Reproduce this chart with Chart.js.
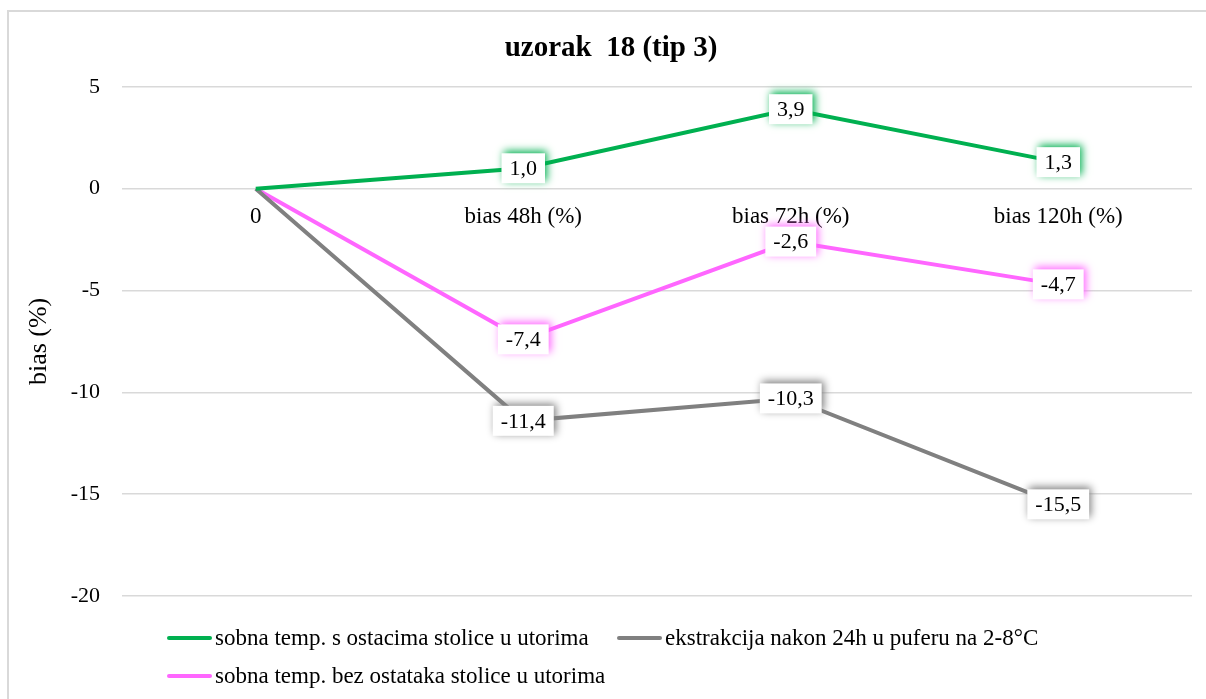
<!DOCTYPE html>
<html>
<head>
    <title>uzorak 18 (tip 3)</title>
    <script src="https://cdn.jsdelivr.net/npm/chart.js"></script>
    <style>
        html, body {
            margin: 0;
            padding: 0;
            width: 1206px;
            height: 699px;
            overflow: hidden;
            background: #ffffff;
            font-family: "Liberation Serif", "Times New Roman", serif;
        }
        .frame {
            position: absolute;
            left: 7px;
            top: 10px;
            width: 1230px;
            height: 720px;
            border: 2px solid #d9d9d9;
        }
        .chart-box {
            position: absolute;
            left: 0;
            top: 0;
            width: 1206px;
            height: 699px;
        }
        .legend-item {
            position: absolute;
            display: flex;
            align-items: center;
            font-size: 23px;
            color: #000;
            white-space: nowrap;
        }
        .legend-item .swatch {
            width: 45px;
            height: 4px;
            border-radius: 2px;
            margin-right: 3px;
        }
    </style>
</head>
<body>
    <div class="frame"></div>
    <div class="chart-box">
        <canvas id="lineChart" width="1206" height="699"></canvas>
    </div>
    <div id="legend"></div>

    <script>
        const categories = ['0', 'bias 48h (%)', 'bias 72h (%)', 'bias 120h (%)'];
        const seriesNames = [
            'sobna temp. s ostacima stolice u utorima',
            'ekstrakcija nakon 24h u puferu na 2-8°C',
            'sobna temp. bez ostataka stolice u utorima'
        ];
        const sobnaSOstacima = [0, 1.0, 3.9, 1.3];
        const ekstrakcija24h = [0, -11.4, -10.3, -15.5];
        const sobnaBezOstataka = [0, -7.4, -2.6, -4.7];
        const seriesColors = ['#00b050', '#808080', '#ff66ff'];
        const yTicks = [5, 0, -5, -10, -15, -20];

        const serif = '"Liberation Serif", "Times New Roman", serif';

        // white boxes with a coloured glow, centred on each point (like the Excel labels)
        const valueLabels = {
            id: 'valueLabels',
            afterDatasetsDraw(chart) {
                const ctx = chart.ctx;
                ctx.save();
                ctx.font = '22px ' + serif;
                ctx.textAlign = 'center';
                ctx.textBaseline = 'middle';
                chart.data.datasets.forEach((ds, di) => {
                    const meta = chart.getDatasetMeta(di);
                    meta.data.forEach((pt, i) => {
                        if (i === 0) return;
                        const txt = ds.data[i].toFixed(1).replace('.', ',');
                        const w = ctx.measureText(txt).width + 16;
                        const h = 30;
                        ctx.save();
                        ctx.shadowColor = ds.borderColor;
                        ctx.shadowBlur = 8;
                        ctx.shadowOffsetX = 2;
                        ctx.shadowOffsetY = -2;
                        ctx.fillStyle = '#ffffff';
                        ctx.fillRect(pt.x - w / 2, pt.y - h / 2, w, h);
                        ctx.restore();
                        ctx.fillStyle = '#000000';
                        ctx.fillText(txt, pt.x, pt.y + 1);
                    });
                });
                ctx.restore();
            }
        };

        const ctx = document.getElementById('lineChart').getContext('2d');
        const chart = new Chart(ctx, {
            type: 'line',
            data: {
                labels: categories,
                datasets: [
                    { label: seriesNames[0], data: sobnaSOstacima, borderColor: seriesColors[0] },
                    { label: seriesNames[1], data: ekstrakcija24h, borderColor: seriesColors[1] },
                    { label: seriesNames[2], data: sobnaBezOstataka, borderColor: seriesColors[2] }
                ].map(d => ({
                    ...d,
                    backgroundColor: d.borderColor,
                    borderWidth: 4,
                    pointRadius: 0,
                    tension: 0,
                    fill: false
                }))
            },
            options: {
                responsive: false,
                animation: false,
                devicePixelRatio: 1,
                layout: {
                    padding: { left: 30, right: 14, top: 0, bottom: 103 }
                },
                plugins: {
                    legend: { display: false },
                    tooltip: { enabled: false },
                    title: {
                        display: true,
                        text: 'uzorak  18 (tip 3)',
                        color: '#000',
                        font: { family: serif, size: 29, weight: 'bold' },
                        padding: { top: 31, bottom: 21 }
                    }
                },
                scales: {
                    x: {
                        type: 'category',
                        offset: true,
                        position: { y: 0 },
                        grid: { display: false, drawTicks: false },
                        border: { display: false },
                        ticks: {
                            color: '#000',
                            font: { family: serif, size: 23 },
                            padding: 15,
                            maxRotation: 0,
                            autoSkip: false
                        }
                    },
                    y: {
                        min: -20,
                        max: 5,
                        afterBuildTicks: axis => {
                            axis.ticks = yTicks.map(v => ({ value: v }));
                        },
                        afterFit: axis => { axis.width = 92; },
                        grid: { color: '#d9d9d9', lineWidth: 1.5, drawTicks: false },
                        border: { display: false },
                        ticks: {
                            color: '#000',
                            font: { family: serif, size: 22 },
                            padding: 22
                        },
                        title: {
                            display: true,
                            text: 'bias (%)',
                            color: '#000',
                            font: { family: serif, size: 26 },
                            padding: { top: -6, bottom: 0 }
                        }
                    }
                }
            },
            plugins: [valueLabels]
        });

        // legend laid out like the original: two items on the first row, one on the second
        const legendSpots = [
            { left: 167, top: 638 },
            { left: 617, top: 638 },
            { left: 167, top: 676 }
        ];
        const legendEl = document.getElementById('legend');
        chart.data.datasets.forEach((ds, i) => {
            const item = document.createElement('div');
            item.className = 'legend-item';
            item.style.left = legendSpots[i].left + 'px';
            item.style.top = (legendSpots[i].top - 14) + 'px';
            item.style.height = '28px';
            const sw = document.createElement('span');
            sw.className = 'swatch';
            sw.style.background = ds.borderColor;
            const tx = document.createElement('span');
            tx.textContent = ds.label;
            item.appendChild(sw);
            item.appendChild(tx);
            legendEl.appendChild(item);
        });
    </script>
</body>
</html>
